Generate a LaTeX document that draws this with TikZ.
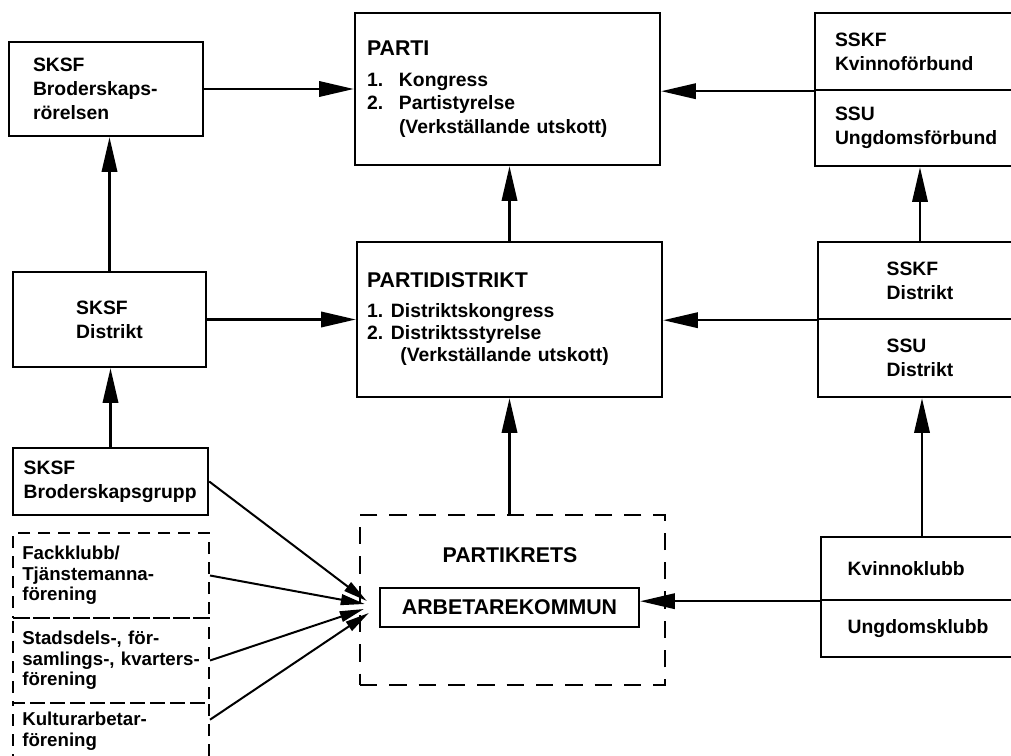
\documentclass[tikz,border=0pt]{standalone}
\usepackage{fontspec}
\setmainfont{Liberation Sans}
\usetikzlibrary{arrows.meta,calc}
\newcommand\rubrikfont{\fontsize{16}{18}\selectfont\bfseries}

\begin{document}
\begin{tikzpicture}[x=0.75pt,y=0.75pt,yscale=-1,xscale=1,
  box/.style={draw, line width=1.8pt, inner ysep=0pt, font=\fontsize{14.5}{18}\selectfont\bfseries},
  streckad/.style={box, line width=1.5pt, dash pattern=on 9pt off 6pt, font=\fontsize{14}{15.5}\selectfont\bfseries},
  kretsstil/.style={draw, line width=1.8pt, dash pattern=on 13pt off 9pt},
  rubrik/.style={font=\rubrikfont},
  pil/.style={line width=1.8pt, -{Triangle[length=26pt,width=11.5pt]}},
  smalpil/.style={line width=1.5pt, -{Triangle[length=18pt,width=8pt]}}]
\useasboundingbox (0,0) rectangle (1011,756);

%Shape: left column
\node[box, minimum height=70.5pt, inner xsep=18pt, text width=109.5pt, align=left] (brod) at (106,89) {SKSF\\Broderskaps-\\rörelsen};
\node[box, minimum width=144.75pt, minimum height=71.25pt, align=left] (sdist) at (109.5,319.5) {SKSF\\Distrikt};
\node[box, minimum height=50.25pt, inner xsep=8pt, text width=130.25pt, align=left] (bgrupp) at (110.5,481.5) {SKSF\\Broderskapsgrupp};
\node[streckad, minimum height=63.75pt, inner xsep=7pt, text width=133pt, align=left] (fack) at (111,575.5) {Fackklubb/\\Tjänstemanna-\\förening};
\node[streckad, minimum height=63.75pt, inner xsep=7pt, text width=133pt, align=left] (stads) at (111,660.5) {Stadsdels-, för-\\\mbox{samlings-, kvarters-}\\förening};
\node[streckad, minimum height=42.75pt, inner xsep=7pt, text width=133pt, align=left] (kultur) at (111,731.5) {Kulturarbetar-\\förening};

%Shape: middle column
\node[box, minimum height=114pt, inner xsep=9pt, text width=210.75pt, align=left, font=\fontsize{14.5}{17.5}\selectfont\bfseries] (parti) at (507.5,89)
  {{\rubrikfont PARTI}\\[6pt]\makebox[24pt][l]{1.}Kongress\\\makebox[24pt][l]{2.}Partistyrelse\\\hspace*{24pt}(Verkställande utskott)};
\node[box, minimum height=116.25pt, inner xsep=7.5pt, text width=213.75pt, align=left, font=\fontsize{14.5}{16.5}\selectfont\bfseries] (pdist) at (509.5,319.5)
  {{\rubrikfont PARTIDISTRIKT}\\[6pt]\makebox[18pt][l]{1.}Distriktskongress\\\makebox[18pt][l]{2.}Distriktsstyrelse\\\hspace*{25pt}(Verkställande utskott)};
\node[kretsstil, minimum width=228.75pt, minimum height=127.5pt] (krets) at (512.5,600) {};
\node[box, rubrik, minimum width=194.25pt, minimum height=29.25pt] (kommun) at (509.5,607.5) {ARBETAREKOMMUN};
\node[rubrik] (kretsnamn) at (510,555) {PARTIKRETS};

%Shape: right column
\node[box, minimum height=57.75pt, inner xsep=15pt, text width=124.5pt, align=left] (sskf) at (918,51.5) {SSKF\\Kvinnoförbund};
\node[box, minimum height=57pt, inner xsep=15pt, text width=124.5pt, align=left] (ssu) at (918,128) {SSU\\Ungdomsförbund};
\node[box, minimum width=153pt, minimum height=57.75pt, align=left] (sskfd) at (920,280.5) {SSKF\\Distrikt};
\node[box, minimum width=153pt, minimum height=58.5pt, align=left] (ssud) at (920,358) {SSU\\Distrikt};
\node[box, minimum height=47.25pt, inner xsep=20pt, text width=111.5pt, align=left] (kvinno) at (922,568.5) {Kvinnoklubb};
\node[box, minimum height=42.75pt, inner xsep=20pt, text width=111.5pt, align=left] (ungdom) at (922,628.5) {Ungdomsklubb};

%Straight Lines
\draw[pil] (brod.east) -- (parti.west |- brod.east);
\draw[pil] (sdist.east) -- (pdist.west |- sdist.east);
\draw[pil] (sdist.north) -- (sdist.north |- brod.south);
\draw[pil] (bgrupp.north) -- (bgrupp.north |- sdist.south);
\draw[pil] (pdist.north) -- (pdist.north |- parti.south);
\draw[pil] (pdist.south |- krets.north) -- (pdist.south);
\draw[pil] (sskf.south west) -- (parti.east |- sskf.south west);
\draw[pil] (sskfd.south west) -- (pdist.east |- sskfd.south west);
\draw[pil] (sskfd.north) -- (sskfd.north |- ssu.south);
\draw[pil] (kvinno.north) -- (kvinno.north |- ssud.south);
\draw[pil] (kvinno.south west) -- (kommun.east |- kvinno.south west);

%Straight Lines: into the kommun
\coordinate (k1) at ($(kommun.west)+(-12,-6.5)$);
\coordinate (k2) at ($(kommun.west)+(-14,-3.5)$);
\coordinate (k3) at ($(kommun.west)+(-15,1.5)$);
\coordinate (k4) at ($(kommun.west)+(-10,5.5)$);
\draw[smalpil] (bgrupp.east) -- (k1);
\draw[smalpil] (fack.east) -- (k2);
\draw[smalpil] (stads.east) -- (k3);
\draw[smalpil] ($(kultur.north east)!0.3!(kultur.south east)$) -- (k4);

\end{tikzpicture}
\end{document}
